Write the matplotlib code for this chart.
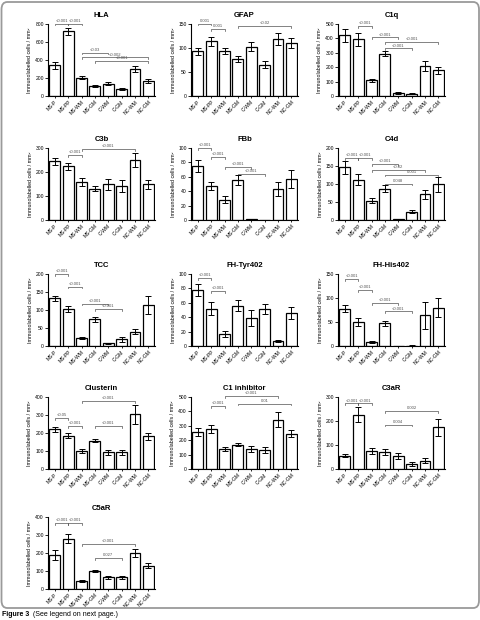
import numpy as np
import matplotlib.pyplot as plt
from matplotlib.patches import FancyBboxPatch

plt.rcParams['font.family'] = ['Liberation Sans', 'DejaVu Sans']
plt.rcParams['font.size'] = 4

groups = ['MS-P', 'MS-PP', 'MS-WM', 'MS-GM', 'C-WM', 'C-GM', 'NC-WM', 'NC-GM']

# mean, SEM and significance brackets (i, j, height, label)
hla_mean = [340, 720, 205, 108, 138, 82, 301, 164]
hla_err = [40, 40, 15, 10, 15, 10, 30, 25]
hla_sig = [(0, 1, 805, '<0.001'), (1, 2, 805, '<0.001'), (2, 4, 483, '<0.03'),
           (2, 7, 428, '<0.002'), (3, 7, 387, '<0.001')]

gfap_mean = [93, 114, 93, 77, 103, 65, 119, 110]
gfap_err = [8, 9, 6, 7, 10, 7, 12, 11]
gfap_sig = [(0, 1, 151, '0.001'), (1, 2, 140, '0.001'), (3, 7, 146, '<0.02')]

c1q_mean = [423, 393, 109, 295, 21, 16, 207, 179]
c1q_err = [45, 45, 10, 20, 7, 5, 35, 25]
c1q_sig = [(1, 2, 486, '<0.001'), (2, 4, 407, '<0.001'), (3, 7, 377, '<0.001'),
           (3, 5, 330, '<0.001')]

c3b_mean = [245, 224, 159, 131, 148, 141, 249, 148]
c3b_err = [15, 15, 18, 10, 22, 25, 30, 20]
c3b_sig = [(1, 2, 270, '<0.001'), (2, 6, 297, '<0.001')]

fbb_mean = [75, 47, 28, 55, 1.5, 0, 43, 57]
fbb_err = [8, 6, 5, 7, 0.5, 0, 10, 12]
fbb_sig = [(0, 1, 100, '<0.001'), (1, 2, 87, '<0.001'), (2, 4, 74, '<0.001'),
           (3, 5, 64, '<0.001')]

c4d_mean = [147, 112, 54, 87, 2, 23, 71, 99]
c4d_err = [18, 15, 8, 10, 1, 4, 12, 20]
c4d_sig = [(0, 1, 172, '<0.001'), (1, 2, 172, '<0.001'), (2, 4, 156, '<0.001'),
           (2, 6, 138, '<0.02'), (3, 7, 126, '0.001'), (3, 5, 101, '0.048')]

tcc_mean = [132, 102, 23, 74, 7, 19, 40, 114]
tcc_err = [8, 8, 3, 7, 2, 7, 8, 25]
tcc_sig = [(0, 1, 200, '<0.001'), (1, 2, 165, '<0.001'), (2, 4, 118, '<0.001'),
           (3, 5, 103, '<0.001')]

tyr_mean = [78, 52, 17, 56, 39, 52, 7, 46]
tyr_err = [8, 9, 4, 8, 11, 7, 2, 8]
tyr_sig = [(0, 1, 94, '<0.001'), (1, 2, 76, '<0.001')]

his_mean = [78, 50, 9, 47, 0, 1, 64, 80]
his_err = [8, 8, 2, 6, 0, 0.5, 28, 19]
his_sig = [(0, 1, 140, '<0.001'), (1, 2, 116, '<0.001'), (2, 4, 89, '<0.001'),
           (3, 5, 72, '<0.001')]

clu_mean = [220, 186, 99, 158, 93, 93, 303, 182]
clu_err = [12, 12, 12, 10, 15, 15, 55, 20]
clu_sig = [(0, 1, 285, '<0.05'), (1, 2, 238, '<0.001'), (3, 5, 238, '<0.001'),
           (2, 6, 378, '<0.001')]

c1inh_mean = [257, 278, 141, 169, 141, 134, 343, 245]
c1inh_err = [25, 25, 15, 12, 20, 20, 50, 25]
c1inh_sig = [(1, 2, 435, '<0.001'), (3, 7, 454, '0.01'), (2, 6, 505, '<0.001')]

c3ar_mean = [56, 227, 74, 70, 53, 21, 35, 174]
c3ar_err = [8, 30, 12, 12, 12, 8, 10, 35]
c3ar_sig = [(0, 1, 273, '<0.001'), (1, 2, 273, '<0.001'), (3, 7, 241, '0.002'),
            (3, 5, 185, '0.004')]

c5ar_mean = [190, 280, 45, 100, 65, 65, 200, 130]
c5ar_err = [28, 25, 5, 8, 8, 8, 20, 12]
c5ar_sig = [(0, 1, 365, '<0.001'), (1, 2, 365, '<0.001'), (2, 6, 250, '<0.001'),
            (3, 5, 172, '0.027')]

panels = [
    ('HLA', hla_mean, hla_err, hla_sig, 800, 200),
    ('GFAP', gfap_mean, gfap_err, gfap_sig, 150, 50),
    ('C1q', c1q_mean, c1q_err, c1q_sig, 500, 100),
    ('C3b', c3b_mean, c3b_err, c3b_sig, 300, 100),
    ('FBb', fbb_mean, fbb_err, fbb_sig, 100, 20),
    ('C4d', c4d_mean, c4d_err, c4d_sig, 200, 50),
    ('TCC', tcc_mean, tcc_err, tcc_sig, 200, 50),
    ('FH-Tyr402', tyr_mean, tyr_err, tyr_sig, 100, 20),
    ('FH-His402', his_mean, his_err, his_sig, 150, 50),
    ('Clusterin', clu_mean, clu_err, clu_sig, 400, 100),
    ('C1 inhibitor', c1inh_mean, c1inh_err, c1inh_sig, 500, 100),
    ('C3aR', c3ar_mean, c3ar_err, c3ar_sig, 300, 100),
    ('C5aR', c5ar_mean, c5ar_err, c5ar_sig, 400, 100),
]

W, H = 481, 620
col_left = [48, 191, 338]
row_top = [24, 148, 274, 397, 517]
ax_w, ax_h = 107, 72
sig_color = '#505050'

fig = plt.figure(figsize=(W / 100, H / 100), dpi=100)

for k, (title, mean, err, sig, ymax, ystep) in enumerate(panels):
    r, c = divmod(k, 3)
    ax = fig.add_axes([col_left[c] / W, 1 - (row_top[r] + ax_h) / H, ax_w / W, ax_h / H])
    x = np.arange(len(groups))
    ax.bar(x, mean, width=0.82, color='white', edgecolor='black', linewidth=0.9, zorder=2)
    ax.errorbar(x, mean, yerr=err, fmt='none', ecolor='black', elinewidth=0.7,
                capsize=2.2, capthick=0.7, zorder=3)
    ax.set_xlim(-0.52, 7.5)
    ax.set_ylim(0, ymax)
    ax.set_yticks(np.arange(0, ymax + 1, ystep))
    ax.set_xticks(x)
    ax.set_xticklabels(groups, rotation=45, ha='right', rotation_mode='anchor', fontsize=3.6)
    ax.tick_params(axis='y', labelsize=3.6, length=2, width=0.6, pad=1)
    ax.tick_params(axis='x', length=1.5, width=0.6, pad=1)
    for s in ['top', 'right']:
        ax.spines[s].set_visible(False)
    for s in ['left', 'bottom']:
        ax.spines[s].set_linewidth(0.8)
    ax.set_title(title, fontsize=5.5, fontweight='bold', pad=5)
    ax.set_ylabel('Immunolabelled cells / mm²', fontsize=3.8, labelpad=2)

    for i, j, y, txt in sig:
        h = ymax * 0.025
        ax.plot([i, i, j, j], [y - h, y, y, y - h], color=sig_color, lw=0.5, clip_on=False)
        ax.text((i + j) / 2, y + ymax * 0.012, txt, ha='center', va='bottom',
                fontsize=3.0, color=sig_color, clip_on=False)

frame = FancyBboxPatch((1.5 / W, 1 - 608 / H), (W - 3.5) / W, (606 / H),
                       boxstyle='round,pad=0,rounding_size=0.012',
                       transform=fig.transFigure, fill=False, edgecolor='#9a9a9a', linewidth=1.3)
fig.patches.append(frame)

fig.text(2 / W, 1 - 614 / H, 'Figure 3', fontsize=5, fontweight='bold', va='center', ha='left')
fig.text(33 / W, 1 - 614 / H, '(See legend on next page.)', fontsize=5, va='center', ha='left')

fig.savefig('out.png', dpi=100)
